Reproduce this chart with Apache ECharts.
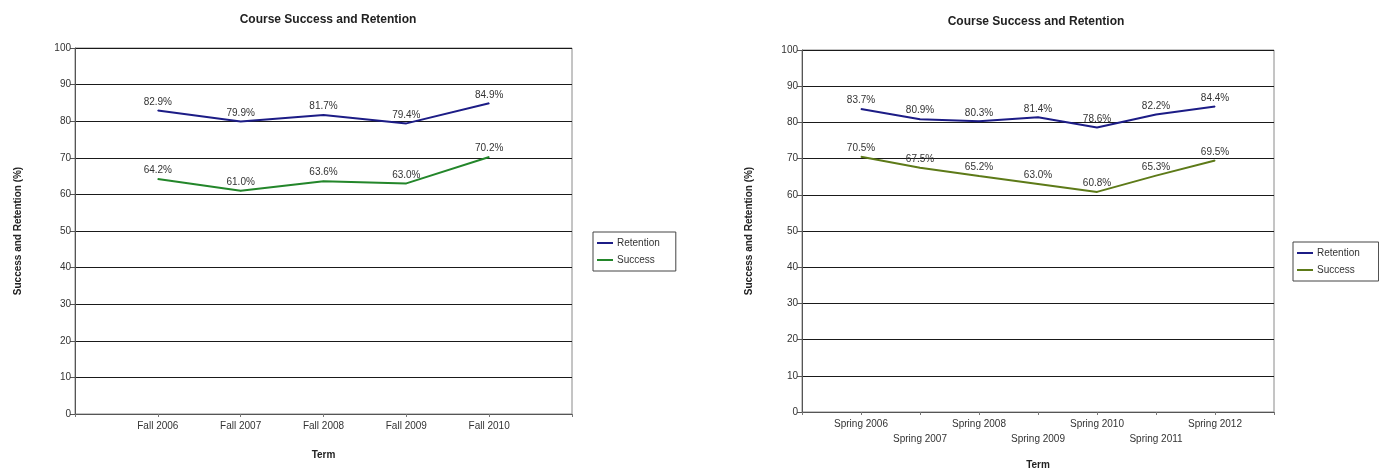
<!DOCTYPE html>
<html>
<head>
<meta charset="utf-8">
<script src="https://cdn.jsdelivr.net/npm/echarts@6/dist/echarts.min.js"></script>
<style>
html,body{margin:0;padding:0;background:#fff;}
#chart{width:1379px;height:469px;}
</style>
</head>
<body>
<div id="chart"></div>
<script>
// ---- data ----
const fallTerms = ['Fall 2006', 'Fall 2007', 'Fall 2008', 'Fall 2009', 'Fall 2010'];
const fallRetention = [82.9, 79.9, 81.7, 79.4, 84.9];
const fallSuccess = [64.2, 61.0, 63.6, 63.0, 70.2];

const springTerms = ['Spring 2006', 'Spring 2007', 'Spring 2008', 'Spring 2009', 'Spring 2010', 'Spring 2011', 'Spring 2012'];
const springRetention = [83.7, 80.9, 80.3, 81.4, 78.6, 82.2, 84.4];
const springSuccess = [70.5, 67.5, 65.2, 63.0, 60.8, 65.3, 69.5];

const yTicks = [0, 10, 20, 30, 40, 50, 60, 70, 80, 90, 100];
const chartTitle = 'Course Success and Retention';
const xName = 'Term';
const yName = 'Success and Retention (%)';

// pad with empty slots at both ends (the original axis leaves one blank slot each side)
const pad = a => [''].concat(a, ['']);
const padV = a => [null].concat(a, [null]);

const FONT = '"Liberation Sans", Arial, sans-serif';
const RET_COLOR = '#1c1c86';
const SUC_LEFT = '#23862a';
const SUC_RIGHT = '#5d7a18';

function yAxis(gridIndex, nameGap) {
  return {
    type: 'value', gridIndex, min: yTicks[0], max: yTicks[yTicks.length - 1], interval: 10,
    name: yName, nameLocation: 'middle', nameGap,
    nameTextStyle: { fontFamily: FONT, fontSize: 10, fontWeight: 'bold', color: '#222' },
    axisLine: { show: true, lineStyle: { color: '#555', width: 1 } },
    axisTick: { show: true, length: 5, lineStyle: { color: '#555' } },
    axisLabel: { fontFamily: FONT, fontSize: 10, color: '#333', margin: 4 },
    splitLine: { show: true, lineStyle: { color: '#1a1a1a', width: 1 } }
  };
}

function xAxis(gridIndex, cats, nameGap, stagger) {
  return {
    type: 'category', gridIndex, data: pad(cats), boundaryGap: false,
    name: xName, nameLocation: 'middle', nameGap,
    nameTextStyle: { fontFamily: FONT, fontSize: 10, fontWeight: 'bold', color: '#222' },
    axisLine: { show: true, lineStyle: { color: '#555', width: 1 } },
    axisTick: { show: true, length: 3, interval: 0, lineStyle: { color: '#777' } },
    axisLabel: {
      interval: 0, fontFamily: FONT, fontSize: 10, color: '#333', margin: 5, lineHeight: 15,
      formatter: (v, i) => (stagger && i % 2 === 0 && v) ? '\n' + v : v
    },
    splitLine: { show: false }
  };
}

function lineSeries(name, data, color, idx) {
  return {
    name, type: 'line', xAxisIndex: idx, yAxisIndex: idx, data: padV(data),
    symbol: 'circle', symbolSize: 1, showSymbol: true, smooth: false, connectNulls: false,
    lineStyle: { color, width: 2 }, itemStyle: { color },
    label: {
      show: true, position: 'top', distance: 3, fontFamily: FONT, fontSize: 10, color: '#333',
      formatter: p => (p.value == null || p.value === '') ? '' : Number(p.value).toFixed(1) + '%'
    }
  };
}

function legend(left, top) {
  return {
    left, top, orient: 'vertical', itemWidth: 16, itemHeight: 2, itemGap: 7, icon: 'rect',
    borderColor: '#444', borderWidth: 1, padding: [6, 16, 6, 4], backgroundColor: '#fff',
    textStyle: { fontFamily: FONT, fontSize: 10, color: '#333', padding: [0, 0, 0, -1] },
    selectedMode: false
  };
}

const chart = echarts.init(document.getElementById('chart'), null, { renderer: 'canvas' });
chart.setOption({
  backgroundColor: '#fff',
  animation: false,
  title: [
    { text: chartTitle, left: 323, top: 9, textAlign: 'center',
      textStyle: { fontFamily: FONT, fontSize: 12, fontWeight: 'bold', color: '#222' } },
    { text: chartTitle, left: 1031, top: 11, textAlign: 'center',
      textStyle: { fontFamily: FONT, fontSize: 12, fontWeight: 'bold', color: '#222' } }
  ],
  legend: [
    Object.assign(legend(593, 232), { data: ['Retention', 'Success'] }),
    Object.assign(legend(1293, 242), { data: ['Retention ', 'Success '] })
  ],
  grid: [
    { left: 75, right: 1379 - 572, top: 48, bottom: 469 - 414, show: true, borderColor: '#8a8a8a', borderWidth: 1, containLabel: false, outerBoundsMode: 'none' },
    { left: 802, right: 1379 - 1274, top: 50, bottom: 469 - 412, show: true, borderColor: '#8a8a8a', borderWidth: 1, containLabel: false, outerBoundsMode: 'none' }
  ],
  xAxis: [xAxis(0, fallTerms, 36, false), xAxis(1, springTerms, 48, true)],
  yAxis: [yAxis(0, 52), yAxis(1, 48)],
  series: [
    lineSeries('Retention', fallRetention, RET_COLOR, 0),
    lineSeries('Success', fallSuccess, SUC_LEFT, 0),
    lineSeries('Retention ', springRetention, RET_COLOR, 1),
    lineSeries('Success ', springSuccess, SUC_RIGHT, 1)
  ]
});
</script>
</body>
</html>
